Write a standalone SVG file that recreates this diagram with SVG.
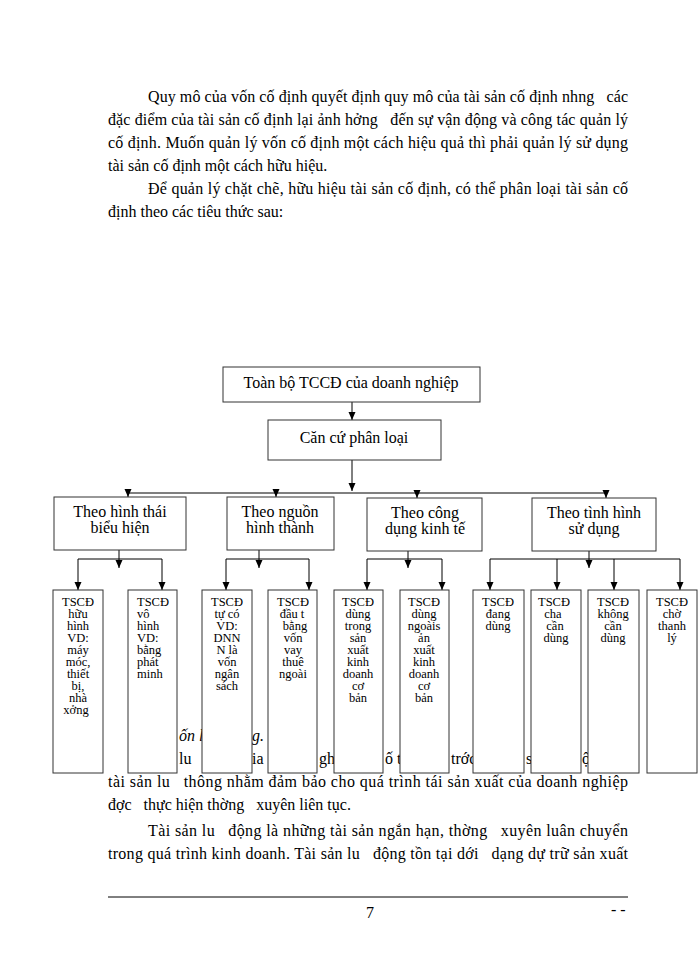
<svg xmlns="http://www.w3.org/2000/svg" width="700" height="960" viewBox="0 0 700 960">
<style>
text{font-family:"Liberation Serif","Times New Roman",serif;fill:#000;white-space:pre}
.p{font-size:16px}
.it{font-size:16px;font-style:italic}
.h{font-size:16px;text-anchor:middle}
.s{font-size:12.5px;text-anchor:middle}
.sl{font-size:12.5px}
.box{fill:#fff;stroke:#333;stroke-width:1}
.ln{fill:none;stroke:#000;stroke-width:1}
</style>
<defs>
<marker id="ah" markerUnits="userSpaceOnUse" markerWidth="9" markerHeight="8" refX="8" refY="3.5" orient="auto">
<path d="M0,0 L8,3.5 L0,7 z" fill="#000"/>
</marker>
</defs>
<rect width="700" height="960" fill="#fff"/>
<g id="body-text">
<text class="p" x="148" y="102" textLength="480" lengthAdjust="spacing">Quy mô của vốn cố định quyết định quy mô của tài sản cố định nhng   các</text>
<text class="p" x="108" y="125" textLength="520" lengthAdjust="spacing">đặc điểm của tài sản cố định lại ảnh hởng   đến sự vận động và công tác quản lý</text>
<text class="p" x="108" y="148" textLength="520" lengthAdjust="spacing">cố định. Muốn quản lý vốn cố định một cách hiệu quả thì phải quản lý sử dụng</text>
<text class="p" x="108" y="171">tài sản cố định một cách hữu hiệu.</text>
<text class="p" x="148" y="194" textLength="480" lengthAdjust="spacing">Để quản lý chặt chẽ, hữu hiệu tài sản cố định, có thể phân loại tài sản cố</text>
<text class="p" x="108" y="217">định theo các tiêu thức sau:</text>
<text class="it" x="179" y="741">ốn l</text>
<text class="it" x="252" y="741">g.</text>
<text class="p" x="179" y="764">lu</text>
<text class="p" x="252" y="764">ia</text>
<text class="p" x="319" y="764">gh</text>
<text class="p" x="385" y="764">ố ti</text>
<text class="p" x="451" y="764">trớc</text>
<text class="p" x="526" y="764">s</text>
<text class="p" x="582" y="764">ộ</text>
<text class="p" x="108" y="787" textLength="520" lengthAdjust="spacing">tài sản lu   thông nhằm đảm bảo cho quá trình tái sản xuất của doanh nghiệp</text>
<text class="p" x="108" y="810">đợc   thực hiện thờng   xuyên liên tục.</text>
<text class="p" x="148" y="836" textLength="480" lengthAdjust="spacing">Tài sản lu   động là những tài sản ngắn hạn, thờng   xuyên luân chuyển</text>
<text class="p" x="108" y="859" textLength="520" lengthAdjust="spacing">trong quá trình kinh doanh. Tài sản lu   động tồn tại dới   dạng dự trữ sản xuất</text>
</g>
<g id="footer">
<line x1="108" y1="897" x2="628" y2="897" stroke="#000" stroke-width="1"/>
<text class="p" x="366" y="918">7</text>
<text class="p" x="611" y="915">- -</text>
</g>
<g id="connectors">
<path class="ln" d="M352,402 V420" marker-end="url(#ah)"/>
<path class="ln" d="M352,460 V491" marker-end="url(#ah)"/>
<path class="ln" d="M128,493 H606"/>
<path class="ln" d="M128,493 V497" marker-end="url(#ah)"/>
<path class="ln" d="M276,493 V497" marker-end="url(#ah)"/>
<path class="ln" d="M417,493 V498" marker-end="url(#ah)"/>
<path class="ln" d="M606,493 V498" marker-end="url(#ah)"/>
<path class="ln" d="M119,550 V568" marker-end="url(#ah)"/>
<path class="ln" d="M78,559 H162"/>
<path class="ln" d="M78,559 V590" marker-end="url(#ah)"/>
<path class="ln" d="M162,559 V590" marker-end="url(#ah)"/>
<path class="ln" d="M259,550 V568" marker-end="url(#ah)"/>
<path class="ln" d="M226,559 H309"/>
<path class="ln" d="M226,559 V590" marker-end="url(#ah)"/>
<path class="ln" d="M309,559 V590" marker-end="url(#ah)"/>
<path class="ln" d="M408,551 V568" marker-end="url(#ah)"/>
<path class="ln" d="M367,559 H442"/>
<path class="ln" d="M367,559 V590" marker-end="url(#ah)"/>
<path class="ln" d="M442,559 V590" marker-end="url(#ah)"/>
<path class="ln" d="M589,551 V568" marker-end="url(#ah)"/>
<path class="ln" d="M490,559 H680"/>
<path class="ln" d="M490,559 V590" marker-end="url(#ah)"/>
<path class="ln" d="M557,559 V590" marker-end="url(#ah)"/>
<path class="ln" d="M614,559 V590" marker-end="url(#ah)"/>
<path class="ln" d="M680,559 V590" marker-end="url(#ah)"/>
</g>
<g id="n-root">
<rect class="box" x="223" y="367" width="257" height="35"/>
<text class="h" x="351" y="388">Toàn bộ TCCĐ của doanh nghiệp</text>
</g>
<g id="n-cancu">
<rect class="box" x="268" y="420" width="173" height="40"/>
<text class="h" x="354" y="443">Căn cứ phân loại</text>
</g>
<g id="n-g1">
<rect class="box" x="54" y="497" width="132" height="53"/>
<text class="h" x="120" y="517">Theo hình thái</text>
<text class="h" x="120" y="533">biểu hiện</text>
</g>
<g id="n-g2">
<rect class="box" x="227" y="497" width="107" height="53"/>
<text class="h" x="280" y="517">Theo nguồn</text>
<text class="h" x="280" y="533">hình thành</text>
</g>
<g id="n-g3">
<rect class="box" x="367" y="498" width="115" height="53"/>
<text class="h" x="425" y="518">Theo công</text>
<text class="h" x="425" y="534">dụng kinh tế</text>
</g>
<g id="n-g4">
<rect class="box" x="532" y="498" width="124" height="53"/>
<text class="h" x="594" y="518">Theo tình hình</text>
<text class="h" x="594" y="534">sử dụng</text>
</g>
<g id="n-b1">
<rect class="box" x="53" y="590" width="50" height="183"/>
<text class="s" x="78" y="606">TSCĐ<tspan x="78" dy="12">hữu</tspan><tspan x="78" dy="12">hình</tspan><tspan x="78" dy="12">VD:</tspan><tspan x="78" dy="12">máy</tspan><tspan x="78" dy="12">móc,</tspan><tspan x="78" dy="12">thiết</tspan><tspan x="78" dy="12">bị,</tspan><tspan x="78" dy="12">nhà</tspan><tspan x="76" dy="12">xởng</tspan></text>
</g>
<g id="n-b2">
<rect class="box" x="128" y="590" width="49" height="183"/>
<text class="sl" x="137" y="606">TSCĐ<tspan x="137" dy="12">vô</tspan><tspan x="137" dy="12">hình</tspan><tspan x="137" dy="12">VD:</tspan><tspan x="137" dy="12">bằng</tspan><tspan x="137" dy="12">phát</tspan><tspan x="137" dy="12">minh</tspan></text>
</g>
<g id="n-b3">
<rect class="box" x="202" y="590" width="50" height="183"/>
<text class="s" x="227" y="606">TSCĐ<tspan x="227" dy="12">tự có</tspan><tspan x="227" dy="12">VD:</tspan><tspan x="227" dy="12">DNN</tspan><tspan x="227" dy="12">N là</tspan><tspan x="227" dy="12">vốn</tspan><tspan x="227" dy="12">ngân</tspan><tspan x="227" dy="12">sách</tspan></text>
</g>
<g id="n-b4">
<rect class="box" x="268" y="590" width="49" height="183"/>
<text class="s" x="293" y="606">TSCĐ<tspan x="292" dy="12">đầu t</tspan><tspan x="295" dy="12">bằng</tspan><tspan x="293" dy="12">vốn</tspan><tspan x="293" dy="12">vay</tspan><tspan x="293" dy="12">thuê</tspan><tspan x="293" dy="12">ngoài</tspan></text>
</g>
<g id="n-b5">
<rect class="box" x="334" y="590" width="49" height="183"/>
<text class="s" x="358" y="606">TSCĐ<tspan x="358" dy="12">dùng</tspan><tspan x="358" dy="12">trong</tspan><tspan x="358" dy="12">sản</tspan><tspan x="358" dy="12">xuất</tspan><tspan x="358" dy="12">kinh</tspan><tspan x="358" dy="12">doanh</tspan><tspan x="358" dy="12">cơ</tspan><tspan x="358" dy="12">bản</tspan></text>
</g>
<g id="n-b6">
<rect class="box" x="400" y="590" width="49" height="183"/>
<text class="s" x="424" y="606">TSCĐ<tspan x="424" dy="12">dùng</tspan><tspan x="424" dy="12">ngoàis</tspan><tspan x="424" dy="12">ản</tspan><tspan x="424" dy="12">xuất</tspan><tspan x="424" dy="12">kinh</tspan><tspan x="424" dy="12">doanh</tspan><tspan x="424" dy="12">cơ</tspan><tspan x="424" dy="12">bản</tspan></text>
</g>
<g id="n-b7">
<rect class="box" x="473" y="590" width="51" height="183"/>
<text class="s" x="498" y="606">TSCĐ<tspan x="498" dy="12">đang</tspan><tspan x="498" dy="12">dùng</tspan></text>
</g>
<g id="n-b8">
<rect class="box" x="531" y="590" width="50" height="183"/>
<text class="s" x="554" y="606">TSCĐ<tspan x="553" dy="12">cha</tspan><tspan x="555" dy="12">cần</tspan><tspan x="556" dy="12">dùng</tspan></text>
</g>
<g id="n-b9">
<rect class="box" x="588" y="590" width="51" height="183"/>
<text class="s" x="613" y="606">TSCĐ<tspan x="613" dy="12">không</tspan><tspan x="613" dy="12">cần</tspan><tspan x="613" dy="12">dùng</tspan></text>
</g>
<g id="n-b10">
<rect class="box" x="647" y="590" width="50" height="183"/>
<text class="s" x="672" y="606">TSCĐ<tspan x="672" dy="12">chờ</tspan><tspan x="672" dy="12">thanh</tspan><tspan x="672" dy="12">lý</tspan></text>
</g>
</svg>
